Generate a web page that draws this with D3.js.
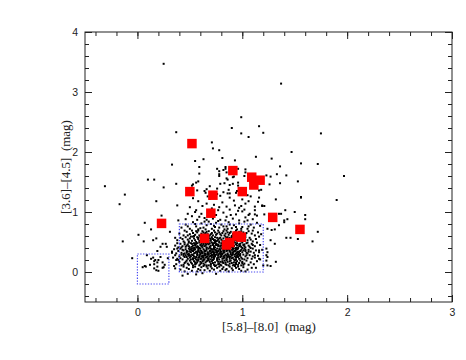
<!DOCTYPE html>
<html>
<head>
<meta charset="utf-8">
<script src="https://cdn.jsdelivr.net/npm/d3@7"></script>
<style>
body{margin:0;background:#fff;}
</style>
</head>
<body>
<script>
// tick labels
const xMajor = [0, 1, 2, 3];
const yMajor = [0, 1, 2, 3, 4];

// red squares
const redX = [0.52,0.50,0.91,0.72,1.09,1.17,1.11,1.00,0.70,0.23,1.29,1.55,0.64,0.95,0.99,0.88,0.85];
const redY = [2.14,1.34,1.69,1.28,1.58,1.53,1.45,1.34,0.98,0.81,0.91,0.71,0.56,0.60,0.58,0.49,0.45];

// dotted selection boxes
const boxX0 = [0, 0.4], boxX1 = [0.3, 1.2];
const boxY0 = [-0.2, 0], boxY1 = [0.3, 0.8];

// black dots (x,y)
const haloText = `0.25,3.47 1.37,3.14 0.37,2.33 0.33,1.79 0.71,2.16 0.72,2.06 0.78,2.03 0.81,1.90 0.55,1.85 0.59,1.75 0.63,1.88 0.90,2.40 0.99,2.58 0.99,2.31 1.06,2.25 1.16,2.43 1.13,1.92 0.76,1.72 0.93,1.86 0.96,1.72 1.03,1.71 0.78,1.63 0.84,1.75 0.85,1.56 0.92,1.59 0.10,1.54 0.16,1.54 1.20,2.32 1.75,2.31 1.47,2.00 1.28,1.89 1.36,1.76 1.56,1.81 1.72,1.80 1.33,1.63 1.23,1.61 1.27,1.59 1.42,1.61 1.97,1.60 1.90,1.20 1.53,1.51 1.56,1.24 1.36,1.48 1.26,1.46 1.32,1.21 1.41,1.03 1.50,1.00 1.60,0.95 1.60,0.88 1.37,0.97 1.35,0.97 1.40,0.86 1.35,0.78 1.72,0.67 1.67,0.51 1.53,0.55 1.42,0.57 1.46,0.57 1.31,0.71 1.28,0.70 1.27,0.53 1.23,0.39 1.32,0.17 1.27,0.10 1.23,0.19 1.19,1.11 -0.31,1.43 -0.12,1.29 -0.17,1.13 -0.14,0.51 -0.05,0.23 0.25,1.41 0.18,1.18 0.37,1.47 0.07,0.82 0.13,0.71 0.01,0.62 0.06,0.51 0.15,0.53 0.07,0.10 0.05,0.08 0.12,0.12 0.16,0.18 0.18,0.03 0.24,0.07 0.26,0.12 0.19,0.35 0.22,0.25 0.28,0.42 0.31,0.67 0.27,0.47 0.36,0.57 0.33,0.32 0.37,0.20 0.35,0.10 0.29,0.23 0.20,0.20 0.38,1.11 0.39,0.86 0.53,1.46 0.56,1.49 0.59,1.64 0.82,1.70 0.91,1.47 0.86,1.31 0.66,1.14 0.78,1.08 0.56,1.03 0.48,0.97 0.52,1.44 0.58,1.51 0.69,1.43 0.66,1.38 0.78,1.68 0.78,1.60 0.84,1.72 0.85,1.66 0.86,1.54 0.83,1.48 0.88,1.45 0.79,1.47 0.91,1.58 0.96,1.49 0.76,1.39 0.82,1.33 0.88,1.31 0.65,1.32 0.57,1.36 0.96,1.44 0.95,1.35 1.16,1.36 1.18,1.37 1.03,1.66 1.02,1.60 0.23,0.94 0.18,0.56 0.22,0.42 0.24,0.47 0.09,0.28 0.13,0.22 0.17,0.20 0.15,0.24 0.19,0.16 0.16,0.13 0.08,0.09 0.19,0.09 0.16,0.06 0.20,0.02 0.24,0.16 0.25,0.08 1.16,1.24 1.05,1.28 0.93,1.11 0.99,1.10 1.02,1.04 1.06,0.95 1.12,0.96 1.19,1.10 1.21,1.10 1.21,0.96 1.56,1.25 1.43,0.88 1.40,0.83 1.24,0.72 1.31,0.47 1.16,0.22 1.20,0.11 1.24,0.11 1.13,0.07 1.16,0.36 1.12,0.28 1.24,0.33 1.23,0.28 1.24,0.25`;

const coreText = `0.41,0.04 0.47,0.07 0.52,0.02 0.55,0.09 0.58,0.05 0.61,0.08 0.64,0.03 0.67,0.06 0.70,0.09 0.73,0.04 0.76,0.07 0.79,0.02 0.82,0.08 0.85,0.05 0.88,0.09 0.91,0.03 0.94,0.07 0.97,0.05 1.01,0.08 1.05,0.04 1.09,0.07 0.44,0.09 0.49,0.05 0.57,0.01 0.63,0.10 0.69,0.02 0.74,0.10 0.81,0.05 0.87,0.01 0.93,0.10 0.99,0.02 0.36,0.06 0.53,0.08 0.60,0.03 0.66,0.09 0.78,0.09 0.84,0.03 0.90,0.06 0.96,0.09 1.03,0.01 0.45,0.01 0.71,0.06 0.48,-0.03 0.56,-0.04 0.62,-0.02 0.75,-0.03 0.43,-0.06
0.37,0.13 0.40,0.17 0.42,0.11 0.45,0.15 0.47,0.19 0.49,0.12 0.51,0.16 0.53,0.11 0.54,0.18 0.56,0.14 0.58,0.19 0.59,0.11 0.61,0.15 0.62,0.18 0.64,0.12 0.65,0.16 0.67,0.19 0.68,0.11 0.70,0.14 0.71,0.18 0.73,0.12 0.74,0.16 0.76,0.19 0.77,0.13 0.79,0.17 0.80,0.11 0.82,0.15 0.83,0.19 0.85,0.12 0.86,0.17 0.88,0.14 0.89,0.19 0.91,0.11 0.92,0.16 0.94,0.13 0.95,0.18 0.97,0.15 0.99,0.11 1.00,0.17 1.02,0.14 1.04,0.19 1.06,0.12 1.08,0.16 1.11,0.13 1.14,0.18 0.44,0.12 0.50,0.19 0.55,0.13 0.60,0.17 0.63,0.14 0.66,0.11 0.69,0.17 0.72,0.15 0.75,0.11 0.78,0.14 0.81,0.18 0.84,0.16 0.87,0.11 0.90,0.15 0.93,0.19 0.96,0.12 1.01,0.12 0.39,0.20 0.57,0.16 0.68,0.20 0.79,0.12 0.85,0.20 0.98,0.19 0.52,0.14 0.63,0.19
0.34,0.24 0.36,0.28 0.38,0.22 0.40,0.26 0.42,0.29 0.43,0.21 0.45,0.25 0.46,0.28 0.48,0.22 0.49,0.27 0.50,0.24 0.52,0.29 0.53,0.21 0.54,0.26 0.55,0.23 0.57,0.28 0.58,0.21 0.59,0.25 0.60,0.29 0.61,0.22 0.62,0.27 0.63,0.24 0.64,0.21 0.65,0.28 0.66,0.25 0.67,0.22 0.68,0.29 0.69,0.26 0.70,0.21 0.71,0.24 0.72,0.28 0.73,0.22 0.74,0.26 0.75,0.29 0.76,0.23 0.77,0.27 0.78,0.21 0.79,0.25 0.80,0.28 0.81,0.22 0.82,0.26 0.83,0.24 0.84,0.29 0.85,0.21 0.86,0.25 0.87,0.28 0.88,0.22 0.89,0.26 0.90,0.23 0.91,0.29 0.92,0.21 0.93,0.26 0.94,0.24 0.95,0.28 0.97,0.22 0.98,0.27 0.99,0.24 1.01,0.29 1.02,0.21 1.03,0.26 1.05,0.23 1.07,0.28 1.09,0.22 1.10,0.26 1.12,0.24 1.15,0.27 1.17,0.21 0.41,0.23 0.47,0.25 0.51,0.21 0.56,0.25 0.61,0.26 0.64,0.28 0.67,0.26 0.70,0.27 0.73,0.25 0.76,0.21 0.79,0.29 0.82,0.23 0.85,0.27 0.88,0.25 0.91,0.24 0.94,0.21 0.96,0.25 1.00,0.22 1.04,0.28 0.44,0.27 0.53,0.28 0.58,0.24 0.63,0.21 0.68,0.23
0.33,0.34 0.35,0.38 0.37,0.31 0.39,0.35 0.41,0.39 0.42,0.32 0.44,0.36 0.45,0.31 0.46,0.38 0.48,0.34 0.49,0.30 0.50,0.37 0.51,0.33 0.52,0.39 0.53,0.35 0.54,0.31 0.55,0.38 0.56,0.34 0.57,0.30 0.58,0.37 0.59,0.33 0.60,0.39 0.61,0.35 0.62,0.31 0.63,0.38 0.64,0.34 0.65,0.30 0.66,0.37 0.67,0.33 0.68,0.39 0.69,0.35 0.70,0.31 0.71,0.38 0.72,0.34 0.73,0.30 0.74,0.37 0.75,0.33 0.76,0.39 0.77,0.35 0.78,0.31 0.79,0.38 0.80,0.34 0.81,0.30 0.82,0.37 0.83,0.33 0.84,0.39 0.85,0.35 0.86,0.31 0.87,0.38 0.88,0.34 0.89,0.30 0.90,0.37 0.91,0.33 0.92,0.39 0.93,0.35 0.94,0.31 0.95,0.38 0.96,0.34 0.98,0.30 0.99,0.37 1.00,0.33 1.02,0.39 1.03,0.35 1.05,0.31 1.06,0.37 1.08,0.34 1.10,0.39 1.11,0.32 1.13,0.36 1.16,0.33 1.19,0.37 0.43,0.37 0.47,0.32 0.52,0.36 0.55,0.32 0.58,0.35 0.61,0.32 0.64,0.36 0.67,0.31 0.70,0.36 0.73,0.39 0.76,0.32 0.79,0.35 0.82,0.32 0.85,0.38 0.88,0.36 0.91,0.31 0.94,0.37 0.97,0.33 1.01,0.36 1.04,0.32 0.38,0.39 0.49,0.39 0.60,0.31 0.71,0.33 0.83,0.36 0.96,0.39
0.36,0.44 0.39,0.41 0.41,0.47 0.43,0.43 0.45,0.49 0.46,0.42 0.48,0.46 0.50,0.41 0.51,0.48 0.53,0.44 0.54,0.40 0.56,0.47 0.57,0.43 0.59,0.49 0.60,0.45 0.62,0.41 0.63,0.48 0.65,0.44 0.66,0.40 0.68,0.46 0.69,0.42 0.71,0.49 0.72,0.45 0.74,0.41 0.75,0.47 0.77,0.43 0.78,0.49 0.80,0.44 0.81,0.40 0.83,0.47 0.84,0.42 0.86,0.48 0.87,0.45 0.89,0.41 0.90,0.46 0.92,0.43 0.93,0.49 0.95,0.44 0.96,0.40 0.98,0.47 0.99,0.42 1.01,0.45 1.03,0.41 1.04,0.48 1.06,0.44 1.08,0.40 1.09,0.47 1.12,0.43 1.14,0.49 1.17,0.45 0.42,0.41 0.47,0.44 0.52,0.42 0.55,0.46 0.58,0.40 0.61,0.47 0.64,0.43 0.67,0.48 0.70,0.44 0.73,0.40 0.76,0.46 0.79,0.42 0.82,0.45 0.85,0.41 0.88,0.47 0.91,0.40 0.94,0.46 0.97,0.43 1.00,0.49 1.02,0.46 1.07,0.42 1.10,0.45 0.38,0.48 0.49,0.49 0.57,0.48 0.65,0.47 0.73,0.48 0.80,0.48 0.87,0.40 0.95,0.48 1.05,0.49 0.62,0.44 0.69,0.41 0.77,0.45
0.38,0.53 0.41,0.57 0.44,0.51 0.46,0.58 0.48,0.54 0.51,0.59 0.52,0.52 0.54,0.56 0.56,0.50 0.58,0.55 0.60,0.59 0.61,0.53 0.63,0.57 0.65,0.51 0.67,0.56 0.68,0.59 0.70,0.52 0.72,0.55 0.74,0.58 0.75,0.51 0.77,0.54 0.79,0.57 0.81,0.52 0.82,0.56 0.84,0.59 0.86,0.53 0.88,0.57 0.89,0.51 0.91,0.55 0.93,0.58 0.95,0.52 0.97,0.56 0.99,0.51 1.01,0.55 1.03,0.58 1.05,0.53 1.07,0.57 1.10,0.51 1.13,0.55 1.16,0.59 0.43,0.55 0.49,0.51 0.55,0.53 0.59,0.52 0.62,0.59 0.66,0.54 0.69,0.56 0.73,0.53 0.76,0.57 0.80,0.54 0.83,0.51 0.87,0.55 0.90,0.58 0.94,0.55 0.98,0.58 1.02,0.52 1.08,0.54 0.50,0.56 0.57,0.58 0.64,0.55 0.71,0.58 0.78,0.51 0.85,0.57 0.92,0.52 0.96,0.59 0.53,0.59
0.40,0.64 0.44,0.61 0.47,0.67 0.50,0.63 0.52,0.69 0.55,0.62 0.57,0.66 0.59,0.61 0.62,0.68 0.64,0.63 0.66,0.67 0.69,0.61 0.71,0.65 0.73,0.69 0.75,0.62 0.78,0.66 0.80,0.61 0.82,0.68 0.84,0.64 0.87,0.62 0.89,0.67 0.91,0.63 0.94,0.69 0.96,0.64 0.98,0.61 1.01,0.66 1.03,0.62 1.06,0.68 1.09,0.64 1.12,0.61 1.15,0.66 1.18,0.63 0.48,0.61 0.53,0.65 0.58,0.69 0.61,0.64 0.67,0.63 0.72,0.61 0.77,0.69 0.81,0.65 0.86,0.66 0.90,0.60 0.93,0.66 0.99,0.68 1.04,0.65 0.45,0.69 0.63,0.66 0.74,0.66 0.85,0.69 0.97,0.67 1.10,0.69 0.56,0.68 0.68,0.68 0.79,0.63
0.42,0.74 0.46,0.79 0.50,0.72 0.53,0.83 0.56,0.76 0.58,0.71 0.61,0.81 0.63,0.74 0.66,0.78 0.68,0.84 0.71,0.72 0.73,0.77 0.75,0.82 0.78,0.74 0.80,0.79 0.83,0.71 0.85,0.76 0.87,0.83 0.90,0.73 0.92,0.78 0.95,0.71 0.97,0.81 1.00,0.75 1.02,0.84 1.05,0.72 1.08,0.79 1.11,0.74 1.14,0.82 1.17,0.77 0.48,0.76 0.55,0.80 0.60,0.73 0.65,0.71 0.70,0.80 0.77,0.85 0.82,0.76 0.88,0.79 0.94,0.75 0.99,0.72 1.06,0.76 0.64,0.84 0.86,0.72 0.74,0.75
0.46,0.88 0.52,0.93 0.57,0.87 0.61,0.97 0.64,0.90 0.68,1.02 0.72,0.89 0.75,0.95 0.79,0.87 0.82,0.99 0.85,0.92 0.88,1.04 0.91,0.89 0.94,0.96 0.97,0.86 1.00,1.01 1.03,0.91 1.07,0.97 1.10,0.88 1.14,0.94 0.59,0.92 0.70,0.94 0.77,1.03 0.84,0.86 0.96,1.02 1.05,0.86 0.55,1.00 0.66,0.87 0.89,0.95 1.12,1.03
0.50,1.08 0.58,1.18 0.62,1.10 0.69,1.22 0.73,1.12 0.76,1.30 0.81,1.16 0.85,1.09 0.88,1.24 0.92,1.19 0.97,1.07 1.00,1.21 1.03,1.14 1.08,1.26 1.12,1.09 0.64,1.35 0.71,1.06 0.79,1.27 0.94,1.32 1.06,1.18 0.53,1.23 1.15,1.17 0.87,1.37 0.99,1.39 0.67,1.26`;

// extra points in the darkest part of the cloud
const denseText = `0.46,0.17 0.51,0.26 0.57,0.19 0.62,0.33 0.66,0.41 0.71,0.29 0.75,0.36 0.79,0.44 0.83,0.27 0.87,0.51 0.92,0.34 0.97,0.46 0.49,0.43 0.54,0.37 0.59,0.28 0.64,0.52 0.68,0.31 0.72,0.47 0.77,0.24 0.81,0.39 0.86,0.29 0.90,0.42 0.95,0.26 1.00,0.40 0.47,0.35 0.52,0.47 0.56,0.21 0.61,0.43 0.65,0.35 0.70,0.55 0.74,0.28 0.78,0.38 0.82,0.49 0.86,0.36 0.91,0.47 0.96,0.30 0.44,0.30 0.50,0.34 0.55,0.44 0.60,0.22 0.63,0.46 0.67,0.29 0.72,0.37 0.76,0.52 0.80,0.26 0.84,0.45 0.89,0.33 0.93,0.53 0.98,0.35 0.53,0.23 0.58,0.42 0.62,0.25 0.69,0.48 0.73,0.33 0.78,0.56 0.83,0.42 0.87,0.26 0.92,0.44 0.97,0.28 1.02,0.43 0.48,0.29 0.54,0.48 0.60,0.36 0.65,0.24 0.70,0.39 0.75,0.45 0.80,0.31 0.85,0.23 0.89,0.49 0.94,0.40 0.99,0.53 0.45,0.46 0.51,0.38 0.57,0.33 0.61,0.50 0.66,0.46 0.71,0.27 0.76,0.34 0.81,0.47 0.86,0.43 0.90,0.28 0.95,0.33 1.03,0.37 0.59,0.40 0.64,0.31 0.68,0.52 0.73,0.43 0.77,0.29 0.82,0.35 0.88,0.53 0.93,0.29 0.50,0.28 0.56,0.41 0.63,0.27 0.69,0.34 0.74,0.50 0.79,0.32 0.84,0.52 0.91,0.37 0.98,0.44 1.06,0.34 0.55,0.16 0.66,0.18 0.72,0.20 0.81,0.16 0.88,0.18 0.94,0.15 0.60,0.13 0.70,0.12 0.77,0.17 0.84,0.13 0.48,0.14 0.92,0.12 1.00,0.15 0.62,0.62 0.70,0.63 0.76,0.64 0.83,0.61 0.88,0.65 0.54,0.60 0.65,0.65 0.93,0.62 1.00,0.63 0.58,0.57 0.74,0.53 0.86,0.58 0.95,0.57`;

const parsePairs = t => t.trim().split(/\s+/).map(p => p.split(',').map(Number));
const dots = parsePairs(haloText).concat(parsePairs(coreText), parsePairs(denseText));

const W = 466, H = 360;
const pL = 85, pR = 452, pT = 32, pB = 302;

const svg = d3.select('body').append('svg').attr('width', W).attr('height', H);

const x = d3.scaleLinear().domain([-0.5, 3]).range([pL, pR]);
const y = d3.scaleLinear().domain([-0.5, 4]).range([pB, pT]);

// points
svg.append('g').selectAll('rect').data(dots).enter()
    .append('rect')
    .attr('x', d => x(d[0]) - 1)
    .attr('y', d => y(d[1]) - 1)
    .attr('width', 2)
    .attr('height', 2)
    .attr('fill', '#000');

// dotted boxes
svg.append('g').selectAll('rect').data(boxX0).enter()
    .append('rect')
    .attr('x', (d, i) => x(boxX0[i]))
    .attr('y', (d, i) => y(boxY1[i]))
    .attr('width', (d, i) => x(boxX1[i]) - x(boxX0[i]))
    .attr('height', (d, i) => y(boxY0[i]) - y(boxY1[i]))
    .attr('fill', 'none')
    .attr('stroke', '#4a4af0')
    .attr('stroke-width', 1.2)
    .attr('stroke-dasharray', '1.3,1.5');

// red squares
const rs = 9.5;
svg.append('g').selectAll('rect').data(redX).enter()
    .append('rect')
    .attr('x', (d, i) => x(redX[i]) - rs / 2)
    .attr('y', (d, i) => y(redY[i]) - rs / 2)
    .attr('width', rs)
    .attr('height', rs)
    .attr('fill', '#ff0000');

// frame
svg.append('rect')
    .attr('x', pL).attr('y', pT)
    .attr('width', pR - pL).attr('height', pB - pT)
    .attr('fill', 'none').attr('stroke', '#222').attr('stroke-width', 1);

// ticks, all pointing inward
const minorX = x.ticks(20), minorY = y.ticks(20);
function tickAxis(gen, tx, ty, vals, size, fmt, pad) {
    const g = svg.append('g').attr('transform', `translate(${tx},${ty})`)
        .call(gen.tickValues(vals).tickSize(-size).tickSizeOuter(0).tickPadding(pad).tickFormat(fmt));
    g.select('.domain').remove();
    g.selectAll('.tick line').attr('stroke', '#222');
    return g;
}
const none = () => '';
tickAxis(d3.axisBottom(x), 0, pB, minorX, 4, none, 0);
tickAxis(d3.axisTop(x), 0, pT, minorX, 4, none, 0);
tickAxis(d3.axisLeft(y), pL, 0, minorY, 4, none, 0);
tickAxis(d3.axisRight(y), pR, 0, minorY, 4, none, 0);
tickAxis(d3.axisTop(x), 0, pT, xMajor, 7, none, 0);
tickAxis(d3.axisRight(y), pR, 0, yMajor, 7, none, 0);

const xa = tickAxis(d3.axisBottom(x), 0, pB, xMajor, 7, d3.format('d'), 7);
const ya = tickAxis(d3.axisLeft(y), pL, 0, yMajor, 7, d3.format('d'), 7);
[xa, ya].forEach(g => g.selectAll('text')
    .attr('font-family', '"Liberation Sans", Arial, sans-serif')
    .attr('font-size', '10.5px')
    .attr('fill', '#222'));

// axis titles
svg.append('text')
    .text('[5.8]\u2013[8.0]  (mag)')
    .attr('x', 269).attr('y', 331)
    .attr('text-anchor', 'middle')
    .attr('font-family', '"Liberation Serif", "DejaVu Serif", serif')
    .attr('font-size', '13px')
    .attr('fill', '#222')
    .style('white-space', 'pre');

svg.append('text')
    .text('[3.6]\u2013[4.5]  (mag)')
    .attr('transform', `translate(70,167) rotate(-90)`)
    .attr('text-anchor', 'middle')
    .attr('font-family', '"Liberation Serif", "DejaVu Serif", serif')
    .attr('font-size', '13px')
    .attr('fill', '#222')
    .style('white-space', 'pre');
</script>
</body>
</html>
